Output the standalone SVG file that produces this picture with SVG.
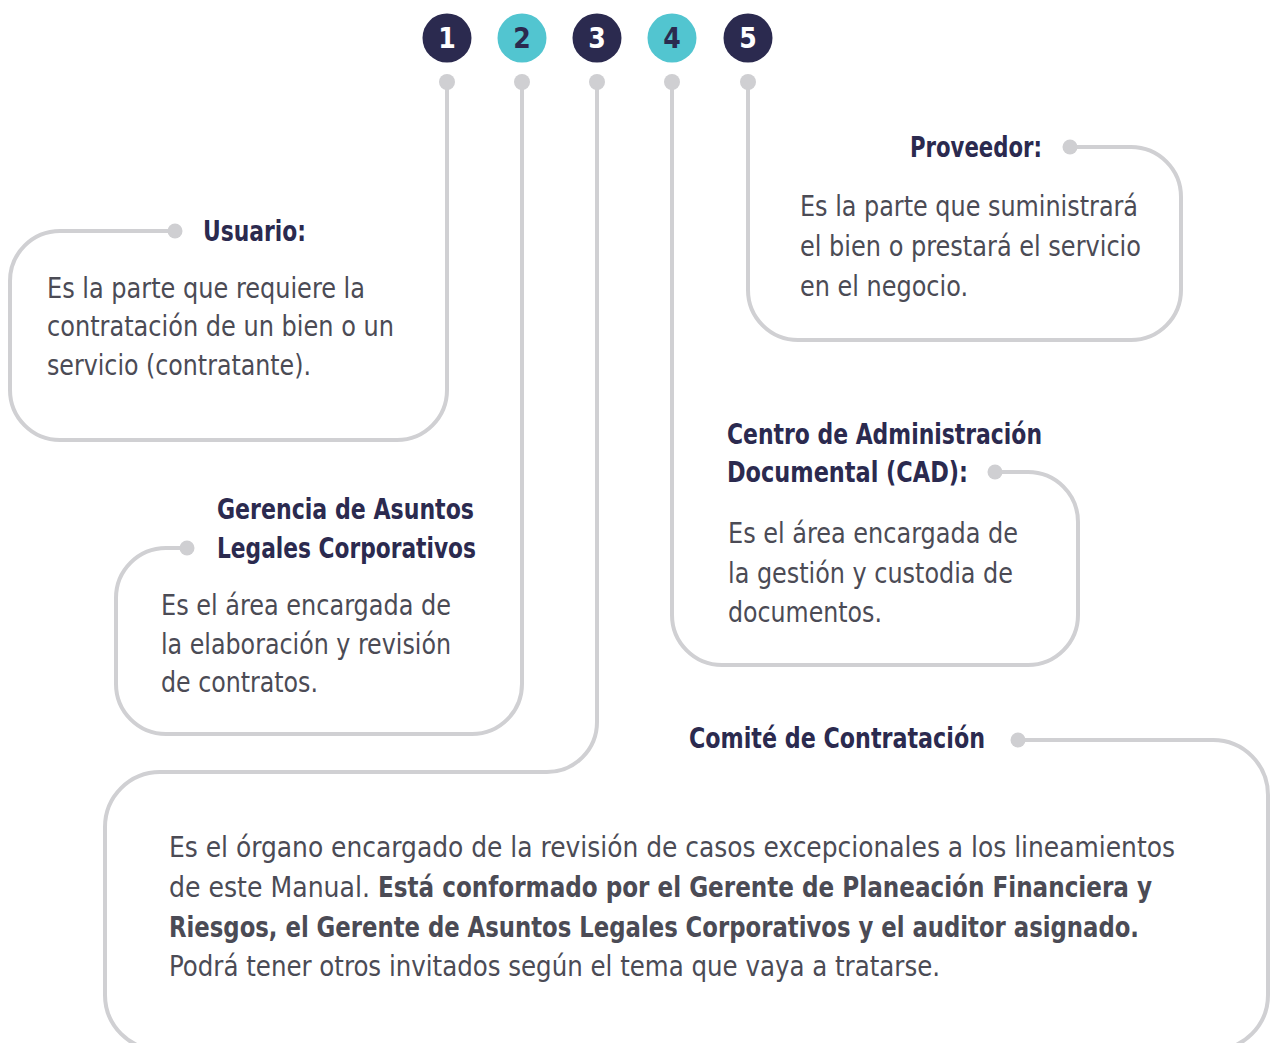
<svg xmlns="http://www.w3.org/2000/svg" width="1271" height="1043" viewBox="0 0 1271 1043">
<style>
  .ln{fill:none;stroke:#d0d0d3;stroke-width:4;stroke-linecap:round}
  .dot{fill:#cfcfd2}
  .navy{fill:#2b2a4f}
  .teal{fill:#52c5d0}
  .num{font-family:"Liberation Sans Narrow","DejaVu Sans Condensed","Liberation Sans",sans-serif;font-weight:700;font-size:28px;text-anchor:middle}
  .t{font-family:"Liberation Sans Narrow","DejaVu Sans Condensed","Liberation Sans",sans-serif;font-weight:700;font-size:29px;fill:#2b2a4f}
  .b{font-family:"Liberation Sans Narrow","DejaVu Sans Condensed","Liberation Sans",sans-serif;font-size:29px;fill:#4b4b55}
  .bb{font-weight:700}
</style>
<rect width="1271" height="1043" fill="#ffffff"/>
<g id="connectors">
  <path class="ln" d="M447,82 V390 A50,50 0 0 1 397,440 H60 A50,50 0 0 1 10,390 V281 A50,50 0 0 1 60,231 H175"/>
  <path class="ln" d="M522,82 V684 A50,50 0 0 1 472,734 H166 A50,50 0 0 1 116,684 V598 A50,50 0 0 1 166,548 H187"/>
  <path class="ln" d="M597,82 V722 A50,50 0 0 1 547,772 H160 A55,55 0 0 0 105,827 V995 A55,55 0 0 0 160,1050 H1213 A55,55 0 0 0 1268,995 V795 A55,55 0 0 0 1213,740 H1018"/>
  <path class="ln" d="M672,82 V615 A50,50 0 0 0 722,665 H1028 A50,50 0 0 0 1078,615 V522 A50,50 0 0 0 1028,472 H995"/>
  <path class="ln" d="M748,82 V290 A50,50 0 0 0 798,340 H1131 A50,50 0 0 0 1181,290 V197 A50,50 0 0 0 1131,147 H1070"/>
  <circle class="dot" cx="447" cy="82" r="8"/>
  <circle class="dot" cx="522" cy="82" r="8"/>
  <circle class="dot" cx="597" cy="82" r="8"/>
  <circle class="dot" cx="672" cy="82" r="8"/>
  <circle class="dot" cx="748" cy="82" r="8"/>
  <circle class="dot" cx="175" cy="231" r="7.5"/>
  <circle class="dot" cx="187" cy="548" r="7.5"/>
  <circle class="dot" cx="1018" cy="740" r="7.5"/>
  <circle class="dot" cx="995" cy="472" r="7.5"/>
  <circle class="dot" cx="1070" cy="147" r="7.5"/>
</g>
<g id="step1"><circle class="navy" cx="447" cy="38" r="24.5"/><text class="num" x="447" y="48" fill="#ffffff">1</text></g>
<g id="step2"><circle class="teal" cx="522" cy="38" r="24.5"/><text class="num" x="522" y="48" fill="#2b2a4f">2</text></g>
<g id="step3"><circle class="navy" cx="597" cy="38" r="24.5"/><text class="num" x="597" y="48" fill="#ffffff">3</text></g>
<g id="step4"><circle class="teal" cx="672" cy="38" r="24.5"/><text class="num" x="672" y="48" fill="#2b2a4f">4</text></g>
<g id="step5"><circle class="navy" cx="748" cy="38" r="24.5"/><text class="num" x="748" y="48" fill="#ffffff">5</text></g>

<g id="usuario">
  <text class="t" x="203" y="241" textLength="103" lengthAdjust="spacingAndGlyphs">Usuario:</text>
  <text class="b" x="47" y="298" textLength="318" lengthAdjust="spacingAndGlyphs">Es la parte que requiere la</text>
  <text class="b" x="47" y="336" textLength="347" lengthAdjust="spacingAndGlyphs">contratación de un bien o un</text>
  <text class="b" x="47" y="375" textLength="264" lengthAdjust="spacingAndGlyphs">servicio (contratante).</text>
</g>
<g id="proveedor">
  <text class="t" x="910" y="157" textLength="132" lengthAdjust="spacingAndGlyphs">Proveedor:</text>
  <text class="b" x="800" y="216" textLength="338" lengthAdjust="spacingAndGlyphs">Es la parte que suministrará</text>
  <text class="b" x="800" y="256" textLength="341" lengthAdjust="spacingAndGlyphs">el bien o prestará el servicio</text>
  <text class="b" x="800" y="296" textLength="168" lengthAdjust="spacingAndGlyphs">en el negocio.</text>
</g>
<g id="gerencia">
  <text class="t" x="217" y="519" textLength="257" lengthAdjust="spacingAndGlyphs">Gerencia de Asuntos</text>
  <text class="t" x="217" y="558" textLength="259" lengthAdjust="spacingAndGlyphs">Legales Corporativos</text>
  <text class="b" x="161" y="615" textLength="290" lengthAdjust="spacingAndGlyphs">Es el área encargada de</text>
  <text class="b" x="161" y="654" textLength="290" lengthAdjust="spacingAndGlyphs">la elaboración y revisión</text>
  <text class="b" x="161" y="692" textLength="157" lengthAdjust="spacingAndGlyphs">de contratos.</text>
</g>
<g id="cad">
  <text class="t" x="727" y="444" textLength="315" lengthAdjust="spacingAndGlyphs">Centro de Administración</text>
  <text class="t" x="727" y="482" textLength="241" lengthAdjust="spacingAndGlyphs">Documental (CAD):</text>
  <text class="b" x="728" y="543" textLength="290" lengthAdjust="spacingAndGlyphs">Es el área encargada de</text>
  <text class="b" x="728" y="583" textLength="285" lengthAdjust="spacingAndGlyphs">la gestión y custodia de</text>
  <text class="b" x="728" y="622" textLength="154" lengthAdjust="spacingAndGlyphs">documentos.</text>
</g>
<g id="comite">
  <text class="t" x="689" y="748" textLength="296" lengthAdjust="spacingAndGlyphs">Comité de Contratación</text>
  <text class="b" x="169" y="857" textLength="1006" lengthAdjust="spacingAndGlyphs">Es el órgano encargado de la revisión de casos excepcionales a los lineamientos</text>
  <text class="b" y="897"><tspan x="169" textLength="201" lengthAdjust="spacingAndGlyphs">de este Manual.</tspan><tspan class="bb" x="378" textLength="774" lengthAdjust="spacingAndGlyphs">Está conformado por el Gerente de Planeación Financiera y</tspan></text>
  <text class="b bb" x="169" y="937" textLength="970" lengthAdjust="spacingAndGlyphs">Riesgos, el Gerente de Asuntos Legales Corporativos y el auditor asignado.</text>
  <text class="b" x="169" y="976" textLength="771" lengthAdjust="spacingAndGlyphs">Podrá tener otros invitados según el tema que vaya a tratarse.</text>
</g>
</svg>
